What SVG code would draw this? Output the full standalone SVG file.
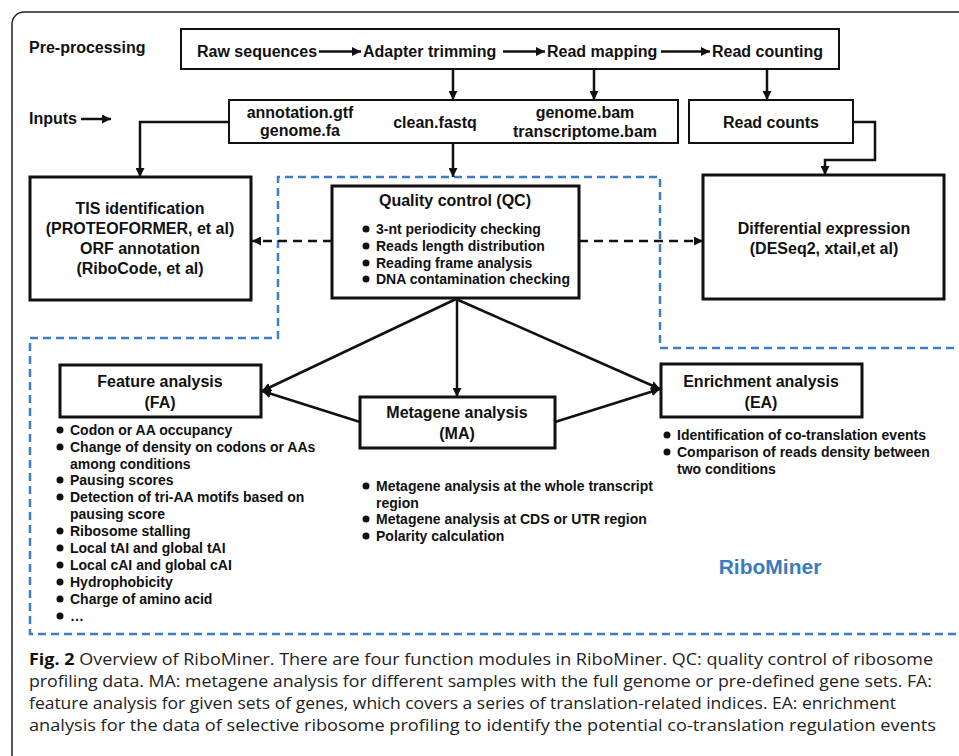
<svg xmlns="http://www.w3.org/2000/svg" width="959" height="756" viewBox="0 0 959 756">
<defs>
<style>
.t{font-family:"Liberation Sans",Arial,sans-serif;font-weight:bold;fill:#111}
.h{font-size:16px}
.b{font-size:14px}
.c{text-anchor:middle}
.thin{fill:#fff;stroke:#111;stroke-width:2}
.thick{fill:#fff;stroke:#111;stroke-width:3}
.ln{fill:none;stroke:#111;stroke-width:2.5}
.dash{fill:none;stroke:#111;stroke-width:2.5;stroke-dasharray:9 6}
.cap{font-family:"Open Sans","Noto Sans",sans-serif;font-size:16px;fill:#222}
</style>
<marker id="ah" viewBox="0 0 10 10" refX="10" refY="5" markerWidth="9" markerHeight="9" markerUnits="userSpaceOnUse" orient="auto">
<path d="M0,0 L10,5 L0,10 z" fill="#111"/>
</marker>
</defs>
<rect x="0" y="0" width="959" height="756" fill="#fff"/>
<rect x="12" y="12" width="980" height="800" rx="12" fill="none" stroke="#222" stroke-width="1.5"/>

<path id="region" d="M980,348 H660 V177 H278 V338 H30 V634 H980" fill="none" stroke="#3d7fc6" stroke-width="2.5" stroke-dasharray="8 5"/>

<text class="t h" x="29" y="53">Pre-processing</text>
<text class="t h" x="29" y="124">Inputs</text>

<g id="preprocess">
<rect class="thin" x="181" y="29" width="658" height="40"/>
<text class="t h" x="197" y="57">Raw sequences</text>
<text class="t h" x="363" y="57">Adapter trimming</text>
<text class="t h" x="547" y="57">Read mapping</text>
<text class="t h" x="712" y="57">Read counting</text>
</g>

<g id="inputs">
<rect class="thin" x="229" y="100" width="449" height="43"/>
<text class="t h c" x="300" y="118">annotation.gtf</text>
<text class="t h c" x="300" y="136">genome.fa</text>
<text class="t h c" x="435" y="128">clean.fastq</text>
<text class="t h c" x="585" y="118">genome.bam</text>
<text class="t h c" x="585" y="137">transcriptome.bam</text>
</g>

<g id="readcounts">
<rect class="thin" x="689" y="100" width="164" height="43"/>
<text class="t h c" x="771" y="128">Read counts</text>
</g>

<g id="tis">
<rect class="thick" x="30" y="177" width="221" height="123"/>
<text class="t h c" x="140" y="214">TIS identification</text>
<text class="t h c" x="140" y="234">(PROTEOFORMER, et al)</text>
<text class="t h c" x="140" y="254">ORF annotation</text>
<text class="t h c" x="140" y="274">(RiboCode, et al)</text>
</g>

<g id="qc">
<rect class="thick" x="332" y="186" width="247" height="112"/>
<text class="t h c" x="455" y="206">Quality control (QC)</text>
<g class="t b">
<text x="376" y="234">3-nt periodicity checking</text>
<text x="376" y="251">Reads length distribution</text>
<text x="376" y="268">Reading frame analysis</text>
<text x="376" y="284">DNA contamination checking</text>
</g>
<g fill="#111"><circle cx="366" cy="229" r="3.5"/><circle cx="366" cy="246" r="3.5"/><circle cx="366" cy="263" r="3.5"/><circle cx="366" cy="279" r="3.5"/></g>
</g>

<g id="de">
<rect class="thick" x="703" y="175" width="241" height="124"/>
<text class="t h c" x="824" y="234">Differential expression</text>
<text class="t h c" x="824" y="254">(DESeq2, xtail,et al)</text>
</g>

<g id="fa">
<rect class="thick" x="60" y="365" width="201" height="52"/>
<text class="t h c" x="160" y="387">Feature analysis</text>
<text class="t h c" x="160" y="408">(FA)</text>
<g class="t b">
<text x="70" y="435">Codon or AA occupancy</text>
<text x="70" y="452">Change of density on codons or AAs</text>
<text x="70" y="469">among conditions</text>
<text x="70" y="485">Pausing scores</text>
<text x="70" y="502">Detection of tri-AA motifs based on</text>
<text x="70" y="519">pausing score</text>
<text x="70" y="536">Ribosome stalling</text>
<text x="70" y="553">Local tAI and global tAI</text>
<text x="70" y="570">Local cAI and global cAI</text>
<text x="70" y="587">Hydrophobicity</text>
<text x="70" y="604">Charge of amino acid</text>
<text x="70" y="621">…</text>
</g>
<g fill="#111"><circle cx="60" cy="430" r="3.5"/><circle cx="60" cy="447" r="3.5"/><circle cx="60" cy="480" r="3.5"/><circle cx="60" cy="497" r="3.5"/><circle cx="60" cy="531" r="3.5"/><circle cx="60" cy="548" r="3.5"/><circle cx="60" cy="565" r="3.5"/><circle cx="60" cy="582" r="3.5"/><circle cx="60" cy="599" r="3.5"/><circle cx="60" cy="616" r="3.5"/></g>
</g>

<g id="ma">
<rect class="thick" x="360" y="397" width="195" height="51"/>
<text class="t h c" x="457" y="418">Metagene analysis</text>
<text class="t h c" x="457" y="439">(MA)</text>
<g class="t b">
<text x="376" y="491">Metagene analysis at the whole transcript</text>
<text x="376" y="508">region</text>
<text x="376" y="524">Metagene analysis at CDS or UTR region</text>
<text x="376" y="541">Polarity calculation</text>
</g>
<g fill="#111"><circle cx="366" cy="486" r="3.5"/><circle cx="366" cy="519" r="3.5"/><circle cx="366" cy="536" r="3.5"/></g>
</g>

<g id="ea">
<rect class="thick" x="661" y="364" width="201" height="53"/>
<text class="t h c" x="761" y="387">Enrichment analysis</text>
<text class="t h c" x="761" y="408">(EA)</text>
<g class="t b">
<text x="677" y="440">Identification of co-translation events</text>
<text x="677" y="457">Comparison of reads density between</text>
<text x="677" y="474">two conditions</text>
</g>
<g fill="#111"><circle cx="667" cy="435" r="3.5"/><circle cx="667" cy="452" r="3.5"/></g>
</g>

<text id="brand" x="770" y="574" text-anchor="middle" style="font-family:'Liberation Sans',Arial,sans-serif;font-weight:bold;font-size:21px;fill:#3a7bc1">RiboMiner</text>

<g id="connectors">
<path class="ln" stroke-width="2" d="M319,51.5 H361" marker-end="url(#ah)"/>
<path class="ln" stroke-width="2" d="M503,51.5 H545" marker-end="url(#ah)"/>
<path class="ln" stroke-width="2" d="M661,51.5 H710" marker-end="url(#ah)"/>
<path class="ln" stroke-width="2" d="M81,119 H111" marker-end="url(#ah)"/>
<path class="ln" d="M453,69 V100" marker-end="url(#ah)"/>
<path class="ln" d="M594,69 V100" marker-end="url(#ah)"/>
<path class="ln" d="M767,69 V100" marker-end="url(#ah)"/>
<path class="ln" d="M229,122 H140 V177" marker-end="url(#ah)"/>
<path class="ln" d="M453,143 V177" marker-end="url(#ah)"/>
<path class="ln" d="M853,122 H875 V160 H825 V175" marker-end="url(#ah)"/>
<path class="dash" d="M332,241 H252" marker-end="url(#ah)"/>
<path class="dash" d="M579,241 H703" marker-end="url(#ah)"/>
<path class="ln" d="M456,299 L262,391" marker-end="url(#ah)"/>
<path class="ln" d="M360,422 L262,391" marker-end="url(#ah)"/>
<path class="ln" d="M457,299 V397" marker-end="url(#ah)"/>
<path class="ln" d="M456,299 L660,389" marker-end="url(#ah)"/>
<path class="ln" d="M555,422 L660,389" marker-end="url(#ah)"/>
</g>

<g id="caption" class="cap">
<text x="29" y="665" textLength="904" lengthAdjust="spacingAndGlyphs"><tspan font-weight="bold" fill="#111">Fig. 2</tspan> Overview of RiboMiner. There are four function modules in RiboMiner. QC: quality control of ribosome</text>
<text x="29" y="687" textLength="903" lengthAdjust="spacingAndGlyphs">profiling data. MA: metagene analysis for different samples with the full genome or pre-defined gene sets. FA:</text>
<text x="29" y="709" textLength="867" lengthAdjust="spacingAndGlyphs">feature analysis for given sets of genes, which covers a series of translation-related indices. EA: enrichment</text>
<text x="29" y="731" textLength="907" lengthAdjust="spacingAndGlyphs">analysis for the data of selective ribosome profiling to identify the potential co-translation regulation events</text>
</g>
</svg>
